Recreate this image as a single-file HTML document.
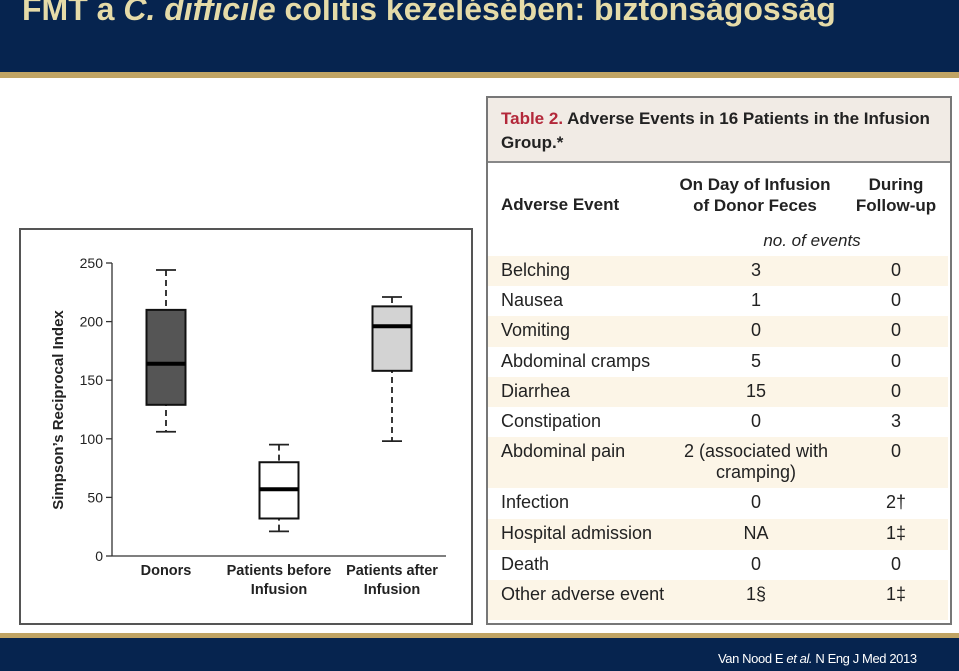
<!DOCTYPE html>
<html><head><meta charset="utf-8"><style>
body{margin:0;width:959px;height:671px;overflow:hidden;background:#fff;position:relative;font-family:"Liberation Sans",sans-serif}
.a{position:absolute}
.t{position:absolute;font-size:18px;color:#222;white-space:nowrap}
.c{transform:translateX(-50%);text-align:center}
</style></head><body>
<div class="a" style="left:0;top:0;width:959px;height:72px;background:#06244f"></div>
<div class="a" style="left:0;top:72px;width:959px;height:6px;background:#c0a464"></div>
<div class="a" style="left:22px;top:-9px;font-size:32px;font-weight:bold;color:#e5dba8;white-space:nowrap">FMT a <i>C. difficile</i> colitis kezelésében: biztonságosság</div>

<div class="a" style="left:19px;top:228px;width:450px;height:393px;border:2px solid #555"></div>
<svg class="a" style="left:0;top:0" width="480" height="640">
<g id="g"></g>
<text transform="translate(63,410) rotate(-90)" text-anchor="middle" font-size="15" font-weight="bold" font-family="Liberation Sans,sans-serif" fill="#222">Simpson’s Reciprocal Index</text>
</svg>

<div class="a" style="left:486px;top:96px;width:462px;height:525px;border:2px solid #777;background:#fff"></div>
<div class="a" style="left:488px;top:98px;width:462px;height:63px;background:#f1ebe5;border-bottom:2px solid #888"></div>
<div class="t" style="left:501px;top:107px;font-weight:bold;font-size:17px;line-height:24px"><span style="color:#b3283a">Table 2.</span> Adverse Events in 16 Patients in the Infusion<br>Group.*</div>
<div class="t" style="left:501px;top:195px;font-weight:bold;font-size:17px">Adverse Event</div>
<div class="t c" style="left:755px;top:174px;font-weight:bold;font-size:17px;line-height:21px">On Day of Infusion<br>of Donor Feces</div>
<div class="t c" style="left:896px;top:174px;font-weight:bold;font-size:17px;line-height:21px">During<br>Follow-up</div>
<div class="t c" style="left:812px;top:231px;font-style:italic;font-size:17px">no. of events</div>
<div id="rows"></div>

<div class="a" style="left:0;top:633px;width:959px;height:5px;background:#c0a464"></div>
<div class="a" style="left:0;top:638px;width:959px;height:33px;background:#06244f"></div>
<div class="a" style="left:718px;top:651px;font-size:13px;color:#fff;white-space:nowrap;letter-spacing:-0.4px">Van Nood E <i>et al.</i> N Eng J Med 2013</div>

<script>
const categories=["Donors","Patients before|Infusion","Patients after|Infusion"];
const whiskerLow=[106,21,98];
const q1=[129,32,158];
const median=[164,57,196];
const q3=[210,80,213];
const whiskerHigh=[244,95,221];
const fills=["#555","#fff","#d3d3d3"];
const yTicks=[0,50,100,150,200,250];
const y=v=>556-v*293/250;
const x=i=>166+i*113;
const NS="http://www.w3.org/2000/svg";
const g=document.getElementById('g');
function mk(t,a){const e=document.createElementNS(NS,t);for(const k in a)e.setAttribute(k,a[k]);g.appendChild(e);return e;}
let e=mk('line',{x1:112,y1:y(0),x2:112,y2:y(250),stroke:'#333','stroke-width':1.3});


e=mk('line',{x1:112,y1:y(0),x2:446,y2:y(0),stroke:'#333','stroke-width':1.3});


yTicks.forEach(v=>{
 e=mk('line',{x1:106,y1:y(v),x2:112,y2:y(v),stroke:'#333','stroke-width':1.3});
 
 
 e=mk('text',{x:103,y:y(v)+5,'text-anchor':'end','font-size':14,fill:'#222'});e.textContent=v;
 
 
});
categories.forEach((c,i)=>{
 const cx=x(i),w=39;
 e=mk('line',{x1:cx,y1:y(whiskerHigh[i]),x2:cx,y2:y(whiskerLow[i]),stroke:'#222','stroke-width':1.8,'stroke-dasharray':'6,4'});
 
 
 [whiskerHigh[i],whiskerLow[i]].forEach(v=>{e=mk('line',{x1:cx-10,y1:y(v),x2:cx+10,y2:y(v),stroke:'#222','stroke-width':1.8});
 
 });
 e=mk('rect',{x:cx-w/2,y:y(q3[i]),width:w,height:y(q1[i])-y(q3[i]),fill:fills[i],stroke:'#111','stroke-width':2});
 
 
 e=mk('line',{x1:cx-w/2,y1:y(median[i]),x2:cx+w/2,y2:y(median[i]),stroke:'#000','stroke-width':4});
 
 
 c.split('|').forEach((s,j)=>{e=mk('text',{x:cx,y:575+j*19,'text-anchor':'middle','font-size':14.5,'font-weight':'bold',fill:'#222'});e.textContent=s;
 
 });
});
const rows=[["Belching","3","0",256,30,1],["Nausea","1","0",286,30,0],["Vomiting","0","0",316,31,1],["Abdominal cramps","5","0",347,30,0],["Diarrhea","15","0",377,30,1],["Constipation","0","3",407,30,0],["Abdominal pain","2 (associated with<br>cramping)","0",437,51,1],["Infection","0","2†",488,31,0],["Hospital admission","NA","1‡",519,31,1],["Death","0","0",550,30,0],["Other adverse event","1§","1‡",580,40,1]];
const R=document.getElementById('rows');
rows.forEach(r=>{
 const d=document.createElement('div');d.className='a';
 d.style.cssText=`left:488px;top:${r[3]}px;width:460px;height:${r[4]}px;background:${r[5]?'#fcf5e7':'transparent'}`;
 
 
 d.innerHTML=`<div class="t" style="left:13px;top:4px">${r[0]}</div><div class="t c" style="left:268px;top:4px;line-height:21px">${r[1]}</div><div class="t c" style="left:408px;top:4px">${r[2]}</div>`;
 R.appendChild(d);
});
</script>
</body></html>
